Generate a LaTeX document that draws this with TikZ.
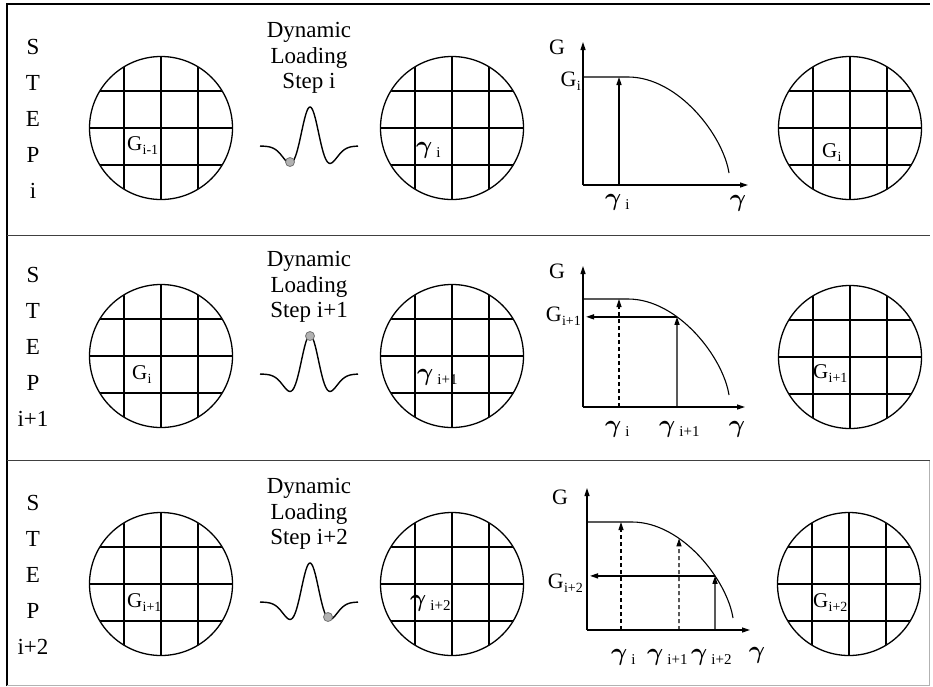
\documentclass[tikz,border=0pt]{standalone}
\usepackage{amsmath}
\usepackage{fontspec}
\setmainfont{Liberation Serif}
\usetikzlibrary{arrows.meta,intersections}

\newcommand\Gsub[1]{G\kern0.3pt\raisebox{-4pt}{\fontsize{14}{14}\selectfont #1}}
\newcommand\gam{{\fontsize{25}{25}\selectfont$\boldsymbol{\gamma}$}}
\newcommand\Ysub[1]{\gam\kern4pt\raisebox{-4pt}{\fontsize{15}{15}\selectfont #1}}

\tikzset{
  frameline/.style={line width=1.4pt, black},
  sepline/.style={line width=1pt, black!75},
  faintline/.style={line width=0.8pt, black!30},
  gridcircle/.style={circle, draw, line width=1.3pt, minimum size=143pt, inner sep=0pt},
  gridline/.style={line width=1.2pt},
  wavel/.style={line width=1.4pt},
  markerdot/.style={circle, draw=black!55, fill=black!30, line width=0.8pt, minimum size=9pt, inner sep=0pt},
  axisl/.style={line width=1.2pt, -{Triangle[length=8pt,width=5pt]}},
  curvel/.style={line width=1.1pt},
  solidarr/.style={line width=1.4pt, -{Triangle[length=8pt,width=5pt]}},
  dasharr/.style={line width=1.1pt, dash pattern=on 4pt off 3pt, -{Triangle[length=8pt,width=5pt]}},
  steptext/.style={font=\fontsize{23}{36}\selectfont, align=center, inner sep=0pt},
  loadtext/.style={font=\fontsize{23}{25.5}\selectfont, align=center, inner sep=0pt},
  cirlab/.style={font=\fontsize{21}{21}\selectfont, inner sep=0pt, anchor=west},
  glab/.style={font=\fontsize{22}{22}\selectfont, inner sep=0pt},
}

\newcommand\gridc[3]{%
  \node[gridcircle] (#1) at (#2,#3) {};
  \begin{scope}
    \clip (#2,#3) circle[radius=71pt];
    \foreach \d in {-37,0,37}{
      \draw[gridline] ({#2+\d},{#3-80}) -- ({#2+\d},{#3+80});
      \draw[gridline] ({#2-80},{#3+\d}) -- ({#2+80},{#3+\d});
    }
  \end{scope}}

\newcommand\wave[1]{%
  \draw[wavel] plot[domain=-50:48, samples=97, smooth]
    ({310+\x},{#1+18-39*(1-3*(\x)*(\x)/400)*exp(-1.5*(\x)*(\x)/400)});}

\newcommand\gcurve[1]{%
  \draw[curvel, name path=#1] (0,-108) -- (45,-108) .. controls (95,-108) and (140,-50) .. (146,-12);}

\begin{document}
\begin{tikzpicture}[x=1pt,y=-1pt]
\useasboundingbox (0,0) rectangle (933,686);

% frame
\coordinate (ftl) at (7,4);
\coordinate (ftr) at (930,4);
\coordinate (fbl) at (7,686);
\coordinate (fbr) at (929,685);
\coordinate (fmr) at (929,460);
\draw[frameline] (fbl) -- (ftl) -- (ftr);
\draw[faintline] (fmr) -- (fbr) -- (7,685);
\coordinate (s1l) at (7,235);  \coordinate (s1r) at (930,235);
\coordinate (s2l) at (7,460);  \coordinate (s2r) at (930,460);
\draw[sepline] (s1l) -- (s1r);
\draw[sepline] (s2l) -- (s2r);

% ================= ROW 1 =================
\node[steptext] (step1) at (33,119) {S\\T\\E\\P\\i};
\gridc{c11}{161}{128}
\node[cirlab] (l11) at (127,146) {\Gsub{i-1}};
\node[loadtext] (load1) at (309,58) {Dynamic\\Loading\\Step i};
\wave{128}
\node[markerdot] (m1) at (290,162) {};
\gridc{c12}{452}{128}
\node[cirlab] (l12) at (416,150) {\Ysub{i}};
\begin{scope}[shift={(583,185)}]
  \coordinate (o1) at (0,0);
  \coordinate (yt1) at (0,-143);
  \coordinate (xt1) at (165,0);
  \draw[axisl] (o1) -- (yt1);
  \draw[axisl] (o1) -- (xt1);
  \gcurve{cv1}
  \coordinate (b1) at (36,0);
  \coordinate (t1) at (36,-108);
  \draw[solidarr] (b1) -- (t1);
  \node[glab] (ga1) at (-26,-138) {G};
  \node[glab, anchor=east] (gy1) at (-2,-104) {\Gsub{i}};
  \node[glab, anchor=west] (gx1a) at (22,17) {\Ysub{i}};
  \node[glab] (gx1) at (155,18) {\gam};
\end{scope}
\gridc{c13}{850}{128}
\node[cirlab] (l13) at (822,153) {\Gsub{i}};

% ================= ROW 2 =================
\node[steptext] (step2) at (33,347) {S\\T\\E\\P\\i+1};
\gridc{c21}{161}{356}
\node[cirlab] (l21) at (132,375) {\Gsub{i}};
\node[loadtext] (load2) at (309,287) {Dynamic\\Loading\\Step i+1};
\wave{356}
\node[markerdot] (m2) at (310,336) {};
\gridc{c22}{452}{356}
\node[cirlab] (l22) at (417,377) {\Ysub{i+1}};
\begin{scope}[shift={(583,407)}]
  \coordinate (o2) at (0,0);
  \coordinate (yt2) at (0,-141);
  \coordinate (xt2) at (162,0);
  \draw[axisl] (o2) -- (yt2);
  \draw[axisl] (o2) -- (xt2);
  \gcurve{cv2}
  \path[name path=v2] (94,0) -- (94,-150);
  \path[name intersections={of=cv2 and v2, by=p2}];
  \coordinate (b2a) at (36,0);
  \coordinate (t2a) at (36,-108);
  \coordinate (b2b) at (94,0);
  \draw[dasharr] (b2a) -- (t2a);
  \draw[solidarr] (b2b) -- (p2);
  \draw[solidarr] (p2) -- ([xshift=3pt]p2 -| o2);
  \node[glab] (ga2) at (-26,-136) {G};
  \node[glab, anchor=east] (gy2) at (-2,-91) {\Gsub{i+1}};
  \node[glab, anchor=west] (gx2a) at (22,22) {\Ysub{i}};
  \node[glab, anchor=west] (gx2b) at (76,22) {\Ysub{i+1}};
  \node[glab] (gx2) at (154,22) {\gam};
\end{scope}
\gridc{c23}{850}{357}
\node[cirlab] (l23) at (813,374) {\Gsub{i+1}};

% ================= ROW 3 =================
\node[steptext] (step3) at (33,575) {S\\T\\E\\P\\i+2};
\gridc{c31}{161}{584}
\node[cirlab] (l31) at (127,603) {\Gsub{i+1}};
\node[loadtext] (load3) at (309,514) {Dynamic\\Loading\\Step i+2};
\wave{584}
\node[markerdot] (m3) at (328,617) {};
\gridc{c32}{452}{584}
\node[cirlab] (l32) at (410,603) {\Ysub{i+2}};
\begin{scope}[shift={(587,630)}]
  \coordinate (o3) at (0,0);
  \coordinate (yt3) at (0,-142);
  \coordinate (xt3) at (163,0);
  \draw[axisl] (o3) -- (yt3);
  \draw[axisl] (o3) -- (xt3);
  \gcurve{cv3}
  \path[name path=v3a] (92,0) -- (92,-150);
  \path[name path=v3b] (128,0) -- (128,-150);
  \path[name intersections={of=cv3 and v3a, by=p3a}];
  \path[name intersections={of=cv3 and v3b, by=p3b}];
  \coordinate (b3a) at (34,0);
  \coordinate (t3a) at (34,-108);
  \coordinate (b3b) at (92,0);
  \coordinate (b3c) at (128,0);
  \draw[dasharr] (b3a) -- (t3a);
  \draw[dasharr] (b3b) -- (p3a);
  \draw[solidarr] (b3c) -- (p3b);
  \draw[solidarr] (p3b) -- ([xshift=3pt]p3b -| o3);
  \node[glab] (ga3) at (-27,-133) {G};
  \node[glab, anchor=east] (gy3) at (-4,-47) {\Gsub{i+2}};
  \node[glab, anchor=west] (gx3a) at (24,27) {\Ysub{i}};
  \node[glab, anchor=west] (gx3b) at (60,27) {\Ysub{i+1}};
  \node[glab, anchor=west] (gx3c) at (104,27) {\Ysub{i+2}};
  \node[glab] (gx3) at (170,25) {\gam};
\end{scope}
\gridc{c33}{849}{584}
\node[cirlab] (l33) at (813,603) {\Gsub{i+2}};

\end{tikzpicture}
\end{document}
